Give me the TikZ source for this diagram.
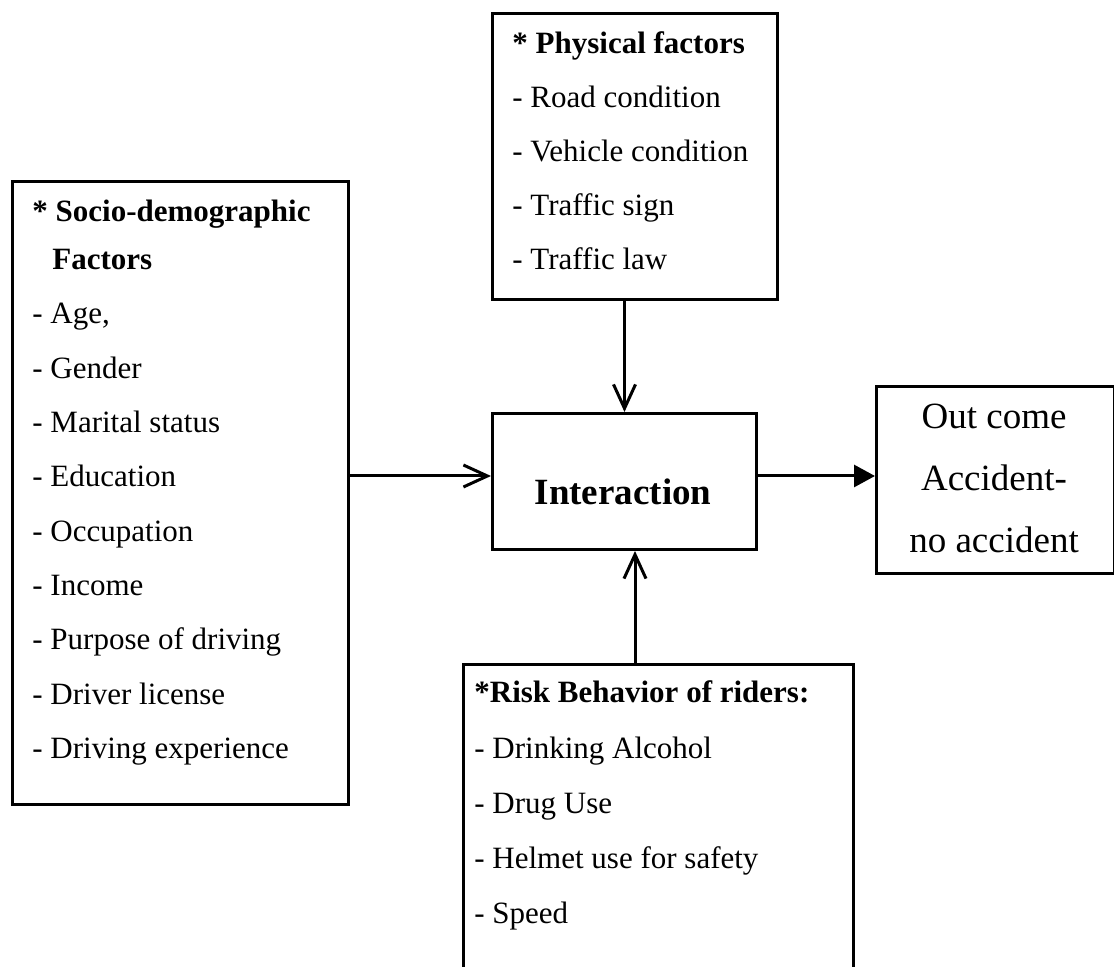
\documentclass[tikz,border=0pt]{standalone}
\usepackage{fontspec}
\setmainfont{Liberation Serif}
\usetikzlibrary{arrows.meta,calc}
\begin{document}
\begin{tikzpicture}[x=0.5pt,y=-0.5pt,
  box/.style={draw,line width=1.5pt,inner sep=0pt,anchor=north west},
  txt/.style={anchor=base west,inner sep=0pt,font=\fontsize{15.5}{18}\selectfont},
  htxt/.style={txt,font=\fontsize{15.5}{18}\selectfont\bfseries},
  big/.style={anchor=base,inner sep=0pt,font=\fontsize{18.5}{22}\selectfont},
  openarrow/.style={line width=1.5pt,-{Straight Barb[length=12pt,width=11pt,line width=1.5pt]}},
  fillarrow/.style={line width=1.5pt,-{Triangle[length=10.5pt,width=11pt]}}]
\useasboundingbox (0,0) rectangle (1114,967);
% boxes
\node[box,minimum width=168.15pt,minimum height=311.5pt] (left) at (10.7,180) {};
\node[box,minimum width=142.5pt,minimum height=143pt] (phys) at (491,12) {};
\node[box,minimum width=132pt,minimum height=68pt] (inter) at (491,412) {};
\node[box,minimum width=119pt,minimum height=93.5pt] (out) at (875,385) {};
\node[box,minimum width=195pt,minimum height=160pt] (risk) at (462,663) {};
% left texts
\node[htxt] (l1) at (32,222) {* Socio-demographic};
\node[htxt] (l2) at (52,270) {Factors};
\foreach \t [count=\i from 0] in {- Age{,},- Gender,- Marital status,- Education,- Occupation,- Income,- Purpose of driving,- Driver license,- Driving experience}
  \node[txt] (la\i) at (32,324+54.3*\i) {\t};
% physical texts
\node[htxt] (p1) at (512,54) {* Physical factors};
\foreach \t [count=\i from 0] in {- Road condition,- Vehicle condition,- Traffic sign,- Traffic law}
  \node[txt] (pa\i) at (512,108+54*\i) {\t};
% interaction
\node[big,font=\fontsize{18.5}{22}\selectfont\bfseries] (it) at (623,505) {Interaction};
% outcome
\node[big] (o1) at (994,429) {Out come};
\node[big] (o2) at (994,491) {Accident-};
\node[big] (o3) at (994,553) {no accident};
% risk texts
\node[htxt] (r1) at (474,703) {*Risk Behavior of riders:};
\foreach \t [count=\i from 0] in {- Drinking Alcohol,- Drug Use,- Helmet use for safety,- Speed}
  \node[txt] (ra\i) at (474,758+55.3*\i) {\t};
% connectors
\draw[openarrow] (left.east |- 0,476) -- (inter.west |- 0,476);
\draw[openarrow] (phys.south -| inter.north) -- (inter.north);
\draw[openarrow] (risk.north -| 635,0) -- (inter.south -| 635,0);
\draw[fillarrow] (inter.east |- 0,476) -- (out.west |- 0,476);
\end{tikzpicture}
\end{document}
